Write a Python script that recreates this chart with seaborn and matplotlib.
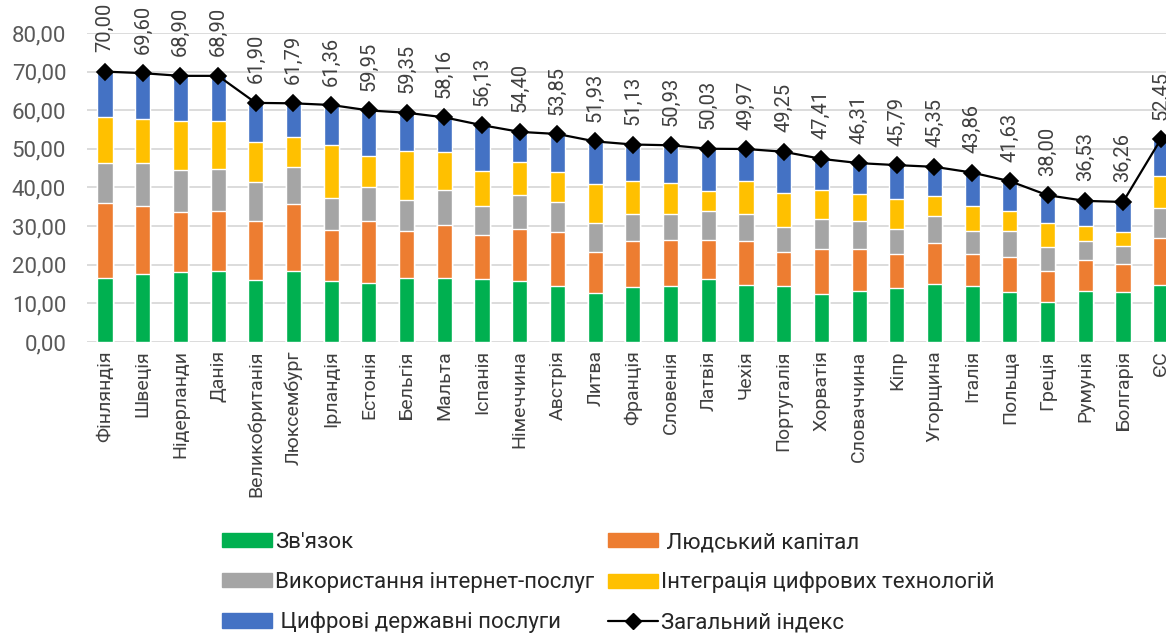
import numpy as np
import pandas as pd
import matplotlib
matplotlib.use("Agg")
import matplotlib.pyplot as plt
from matplotlib.patches import Patch
from matplotlib.lines import Line2D
import seaborn as sns

countries = ["Фінляндія", "Швеція", "Нідерланди", "Данія", "Великобританія", "Люксембург",
             "Ірландія", "Естонія", "Бельгія", "Мальта", "Іспанія", "Німеччина", "Австрія",
             "Литва", "Франція", "Словенія", "Латвія", "Чехія", "Португалія", "Хорватія",
             "Словаччина", "Кіпр", "Угорщина", "Італія", "Польща", "Греція", "Румунія",
             "Болгарія", "ЄС"]

connectivity = [16.6, 17.5, 18.2, 18.5, 16.1, 18.5, 15.8, 15.4, 16.6, 16.6, 16.3, 15.8, 14.5,
                12.6, 14.3, 14.5, 16.3, 14.8, 14.5, 12.5, 13.3, 14.0, 15.1, 14.5, 13.0, 10.3,
                13.3, 13.0, 14.8]
human_capital = [19.4, 17.8, 15.4, 15.4, 15.2, 17.3, 13.3, 15.9, 12.2, 13.7, 11.3, 13.5, 14.1,
                 10.7, 11.8, 11.9, 10.1, 11.3, 8.8, 11.7, 10.9, 8.8, 10.6, 8.3, 9.1, 8.2,
                 8.0, 7.1, 12.2]
internet_use = [10.3, 11.0, 10.9, 10.9, 10.2, 9.4, 8.1, 8.9, 8.0, 9.0, 7.7, 8.8, 7.7,
                7.5, 7.1, 6.8, 7.4, 7.1, 6.6, 7.6, 7.2, 6.5, 6.9, 5.9, 6.6, 6.0,
                4.8, 4.7, 7.7]
integration = [11.9, 11.5, 12.7, 12.4, 10.3, 7.8, 13.7, 8.0, 12.6, 9.8, 8.9, 8.5, 7.6,
                10.1, 8.4, 8.0, 5.2, 8.6, 8.6, 7.6, 6.8, 7.7, 5.3, 6.5, 5.2, 6.4,
                3.9, 3.7, 8.3]
public_services = [11.8, 11.8, 11.7, 11.7, 10.1, 8.79, 10.46, 11.75, 9.95, 9.06, 11.93, 7.8, 9.95,
                   11.03, 9.53, 9.73, 11.03, 8.17, 10.75, 8.01, 8.11, 8.79, 7.45, 8.66, 7.73, 7.1,
                   6.53, 7.76, 9.45]
total_index = [70.00, 69.60, 68.90, 68.90, 61.90, 61.79, 61.36, 59.95, 59.35, 58.16, 56.13, 54.40,
               53.85, 51.93, 51.13, 50.93, 50.03, 49.97, 49.25, 47.41, 46.31, 45.79, 45.35, 43.86,
               41.63, 38.00, 36.53, 36.26, 52.45]

series_names = ["Зв'язок", " Людський капітал", "Використання інтернет-послуг",
                "Інтеграція цифрових технологій", " Цифрові державні послуги"]
line_name = "Загальний індекс"
colors = ["#00B050", "#ED7D31", "#A5A5A5", "#FFC000", "#4472C4"]

sns.set_style("white")
plt.rcParams["font.family"] = ["Roboto", "DejaVu Sans"]

fig = plt.figure(figsize=(11.66, 6.33), dpi=100)
ax = fig.add_axes([0.0746, 0.4597, 0.9254, 0.4882])

layers = [connectivity, human_capital, internet_use, integration, public_services]
cum = np.cumsum(np.array(layers), axis=0)
df = pd.DataFrame({"country": countries})
# draw cumulative heights from top layer down so they appear stacked
for k in range(len(layers) - 1, -1, -1):
    df["v"] = cum[k]
    sns.barplot(data=df, x="country", y="v", order=countries, color=colors[k],
                saturation=1, width=0.4, ax=ax, errorbar=None, zorder=2 + (4 - k) * 0.01)

sns.pointplot(x=countries, y=total_index, order=countries, color="black", markers="D",
              linestyles="-", markersize=8, linewidth=1.6, errorbar=None, ax=ax, zorder=6)

for i, t in enumerate(total_index):
    ax.annotate(f"{t:.2f}".replace(".", ","), xy=(i, t), xytext=(0, 14),
                textcoords="offset points", rotation=90, ha="center", va="bottom",
                fontsize=14.5, color="#404040", annotation_clip=False, zorder=7)

ax.set_ylim(0, 80)
ax.set_xlim(-0.477, 28.14)
yt = np.arange(0, 81, 10)
ax.set_yticks(yt)
ax.set_yticklabels([f"{v:.2f}".replace(".", ",") for v in yt], fontsize=16, color="#595959")
ax.set_xticks(range(len(countries)))
ax.set_xticklabels(countries, rotation=90, fontsize=14, color="#404040")
ax.tick_params(axis="both", length=0)
ax.tick_params(axis="y", pad=15)
ax.tick_params(axis="x", pad=6)
ax.set_xlabel("")
ax.set_ylabel("")
ax.yaxis.grid(True, color="#D9D9D9", linewidth=1.3, zorder=0)
ax.set_axisbelow(True)
for s in ax.spines.values():
    s.set_visible(False)

h = [Patch(color=c) for c in colors]
hline = Line2D([0], [0], color="black", marker="D", markersize=8, linewidth=1.6)
leg_kw = dict(loc="upper left", frameon=False, fontsize=16, handlelength=2.25,
              handleheight=0.6, handletextpad=0.15, labelspacing=0.85, borderpad=0,
              borderaxespad=0, labelcolor="#262626")
fig.legend([h[0], h[2], h[4]], [series_names[0], series_names[2], series_names[4]],
           bbox_to_anchor=(222 / 1166, 1 - 532 / 633), **leg_kw)
fig.legend([h[1], h[3], hline], [series_names[1], series_names[3], line_name],
           bbox_to_anchor=(608 / 1166, 1 - 532 / 633), **leg_kw)

fig.savefig("out.png", dpi=100)
